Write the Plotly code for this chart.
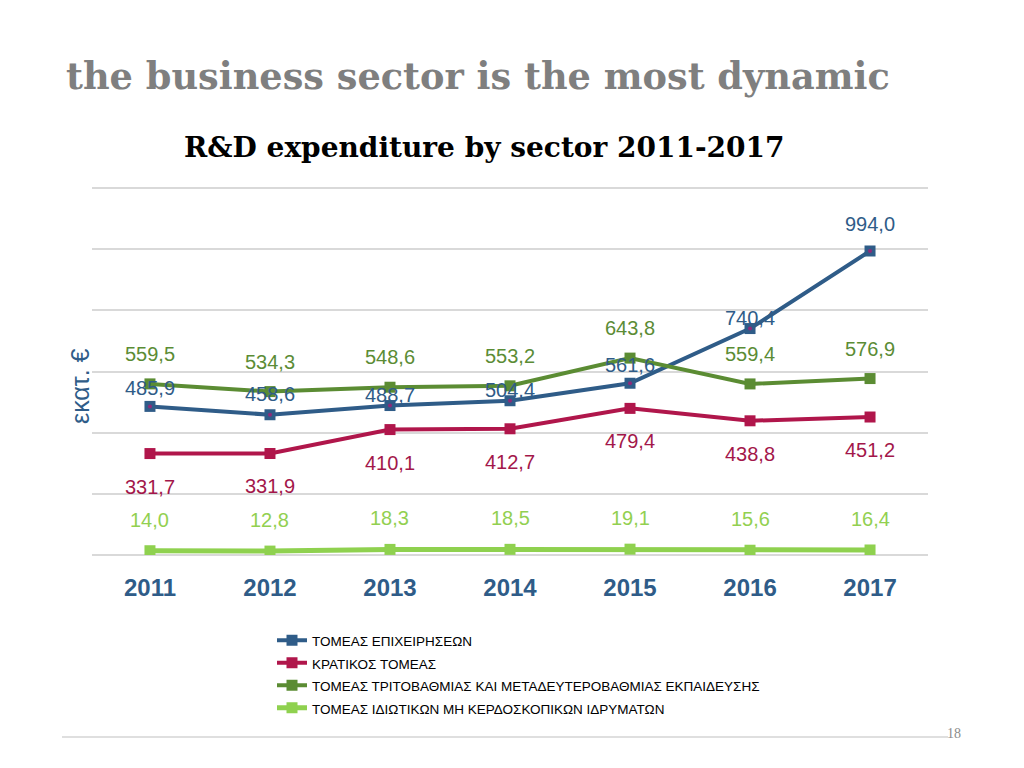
import plotly.graph_objects as go

years = ["2011", "2012", "2013", "2014", "2015", "2016", "2017"]
business = [485.9, 458.6, 488.7, 504.4, 561.6, 740.4, 994.0]
government = [331.7, 331.9, 410.1, 412.7, 479.4, 438.8, 451.2]
higher_edu = [559.5, 534.3, 548.6, 553.2, 643.8, 559.4, 576.9]
private_np = [14.0, 12.8, 18.3, 18.5, 19.1, 15.6, 16.4]

names = [
    "ΤΟΜΕΑΣ ΕΠΙΧΕΙΡΗΣΕΩΝ",
    "ΚΡΑΤΙΚΟΣ ΤΟΜΕΑΣ",
    "ΤΟΜΕΑΣ ΤΡΙΤΟΒΑΘΜΙΑΣ ΚΑΙ ΜΕΤΑΔΕΥΤΕΡΟΒΑΘΜΙΑΣ ΕΚΠΑΙΔΕΥΣΗΣ",
    "ΤΟΜΕΑΣ ΙΔΙΩΤΙΚΩΝ ΜΗ ΚΕΡΔΟΣΚΟΠΙΚΩΝ ΙΔΡΥΜΑΤΩΝ",
]
series = [business, government, higher_edu, private_np]

# styling
line_colors = ["#2F5C88", "#B0164B", "#5B8C33", "#8FD14F"]
text_colors = ["#2F5C88", "#A3174A", "#5B8C35", "#92D050"]
line_widths = [4, 4, 4, 5]
# label offsets in screen pixels (positive = below the point)
label_offsets = [
    [-18, -21, -11, -11, -18, -11, -27],
    [33] * 7,
    [-30] * 7,
    [-31] * 7,
]

SANS = "Liberation Sans, Arial, sans-serif"

# page has an 8px body margin; map screen pixel positions to paper coords
OFF, W, H = 8, 1008, 752


def px(x):
    return (x - OFF) / W


def py(y):
    return 1 - (y - OFF) / H


# y axis: 0 at screen y=555, 1200 at screen y=188; extend range slightly so
# the 1200 gridline is not clipped at the edge
Y_MAX_GRID, Y_TOP = 1200, 1212
scale = (555 - 188) / Y_MAX_GRID
top_px = 555 - Y_TOP * scale

fig = go.Figure()
for name, vals, lc, lw in zip(names, series, line_colors, line_widths):
    fig.add_trace(go.Scatter(
        x=years, y=vals, name=f'<span style="font-size:13.5px">{name}</span>',
        mode="lines+markers",
        line=dict(color=lc, width=lw),
        marker=dict(symbol="square", size=11, color=lc),
    ))
# small magenta centre dots on the business markers
fig.add_trace(go.Scatter(
    x=years, y=business, mode="markers", showlegend=False, hoverinfo="skip",
    marker=dict(symbol="circle", size=4, color="#8E2A78"),
))

annotations = []
for vals, tc, offs in zip(series, text_colors, label_offsets):
    for i, (v, off) in enumerate(zip(vals, offs)):
        annotations.append(dict(
            x=i, y=v, xref="x", yref="y", showarrow=False,
            text=f"{v:.1f}".replace(".", ","), yshift=-off,
            font=dict(family=SANS, size=20, color=tc),
        ))

annotations.append(dict(
    x=px(80), y=py(386), xref="paper", yref="paper", showarrow=False,
    xanchor="center", yanchor="middle",
    text="εκατ. €", textangle=-90,
    font=dict(family=SANS, size=25, color="#2F5C88"),
))
annotations.append(dict(
    x=px(64), y=py(76), xref="paper", yref="paper", showarrow=False,
    xanchor="left", yanchor="middle",
    text="<b>the business sector is the most dynamic</b>",
    font=dict(family="DejaVu Serif, Liberation Serif, serif", size=36.7, color="#7F7F7F"),
))
annotations.append(dict(
    x=px(484), y=py(147), xref="paper", yref="paper", showarrow=False,
    xanchor="center", yanchor="middle",
    text="<b>R&D expenditure by sector 2011-2017</b>",
    font=dict(family="DejaVu Serif, Liberation Serif, serif", size=28, color="#000000"),
))
annotations.append(dict(
    x=px(954), y=py(733), xref="paper", yref="paper", showarrow=False,
    xanchor="center", yanchor="middle",
    text="18", font=dict(family="Liberation Serif, serif", size=14, color="#8C8C8C"),
))

fig.update_layout(
    width=W, height=H,
    margin=dict(l=0, r=0, t=0, b=0),
    paper_bgcolor="white", plot_bgcolor="white",
    showlegend=True,
    legend=dict(
        x=px(272), y=py(624), xanchor="left", yanchor="top",
        font=dict(family=SANS, size=15, color="#000000"),
        bgcolor="rgba(0,0,0,0)", tracegroupgap=0,
    ),
    xaxis=dict(
        type="category",
        domain=[px(92), px(928)],
        range=[-0.483, 6.483],
        showgrid=False, zeroline=False, showline=False,
        ticks="", ticklabelstandoff=16,
        tickfont=dict(family=SANS, size=24, color="#2F5C88", weight="bold"),
    ),
    yaxis=dict(
        domain=[py(555), py(top_px)],
        range=[0, Y_TOP], tickvals=[0, 200, 400, 600, 800, 1000, 1200],
        showgrid=True, gridcolor="#D9D9D9", gridwidth=1.5,
        zeroline=True, zerolinecolor="#D9D9D9", zerolinewidth=1.5,
        showticklabels=False, showline=False,
    ),
    annotations=annotations,
    shapes=[dict(
        type="line", xref="paper", yref="paper",
        x0=px(62), x1=px(948), y0=py(737), y1=py(737),
        line=dict(color="#BFBFBF", width=1),
    )],
)

fig.write_html("out.html")
